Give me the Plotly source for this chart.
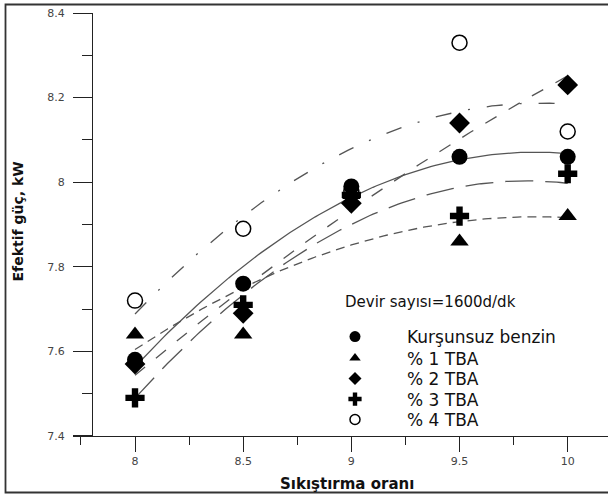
import numpy as np
import plotly.graph_objects as go

# ---- data ----
sikistirma = [8, 8.5, 9, 9.5, 10]
kursunsuz = [7.58, 7.76, 7.99, 8.06, 8.06]
tba1 = [7.64, 7.64, 7.97, 7.86, 7.92]
tba2 = [7.57, 7.69, 7.95, 8.14, 8.23]
tba3 = [7.49, 7.71, 7.97, 7.92, 8.02]
tba4 = [7.72, 7.89, 7.98, 8.33, 8.12]
names = ["Kurşunsuz benzin", "% 1 TBA", "% 2 TBA", "% 3 TBA", "% 4 TBA"]
x_ticks = [8, 8.5, 9, 9.5, 10]
x_tick_labels = ["8", "8.5", "9", "9.5", "10"]
y_ticks = [7.4, 7.6, 7.8, 8.0, 8.2, 8.4]
y_tick_labels = ["7.4", "7.6", "7.8", "8", "8.2", "8.4"]

series = [kursunsuz, tba1, tba2, tba3, tba4]
symbols = ["circle", "triangle-up", "diamond", "cross", "circle-open"]
sizes = [16, 16, 16, 16, 15]
legend_sizes = [11, 10, 10, 11, 10]
dashes = ["solid", "9px,6px", "13px,14px", "28px,12px", "16px,17px,2px,17px"]

FONT = "DejaVu Sans"
LINE = "#555555"

W, H = 608, 497
L, R, T, B = 73, 0, 13, 61
pw, ph = W - L - R, H - T - B
def px(xp):
    return (xp - L) / pw
def py(yp):
    return (H - B - yp) / ph

fig = go.Figure()
xfit = np.linspace(min(sikistirma), max(sikistirma), 121)
for ys, d in zip(series, dashes):
    coef = np.polyfit(sikistirma, ys, 2)
    fig.add_trace(go.Scatter(x=xfit, y=np.polyval(coef, xfit), mode="lines",
                             line=dict(color=LINE, width=1.3, dash=d),
                             showlegend=False, hoverinfo="skip"))
for ys, sym, sz, nm in zip(series, symbols, sizes, names):
    fig.add_trace(go.Scatter(x=sikistirma, y=ys, mode="markers", name=nm,
                             marker=dict(symbol=sym, size=sz, color="black",
                                         line=dict(color="black", width=1.5 if "open" in sym else 0)),
                             showlegend=False))

legend_centers = [337, 358.5, 379, 399.5, 420]
legend_layouts = {}
for i, (sym, sz, nm) in enumerate(zip(symbols, legend_sizes, names)):
    key = "legend" if i == 0 else f"legend{i+1}"
    fig.add_trace(go.Scatter(x=[None], y=[None], mode="markers", name=nm,
                             marker=dict(symbol=sym, size=sz, color="black",
                                         line=dict(color="black", width=1.5 if "open" in sym else 0)),
                             showlegend=True, legend=key))
    legend_layouts[key] = dict(x=px(303), y=py(legend_centers[i]), xanchor="left", yanchor="middle",
                               bgcolor="rgba(0,0,0,0)", itemwidth=94,
                               font=dict(family=FONT, size=17, color="#111"))

xr0 = 8 - (135 - 73) / 216.3
xr1 = 10 + (608 - 567.7) / 216.3

fig.update_layout(
    width=W, height=H,
    margin=dict(l=L, r=R, t=T, b=B),
    paper_bgcolor="white", plot_bgcolor="white",
    font=dict(family=FONT, color="#222"),
    xaxis=dict(range=[xr0, xr1], tickvals=x_ticks, ticktext=x_tick_labels,
               showgrid=False, zeroline=False, showline=True, linecolor="#222", linewidth=1.3,
               ticks="outside", ticklen=15, tickwidth=1.3, tickcolor="#222",
               tickfont=dict(family=FONT, size=11, color="#444"),
               minor=dict(dtick=0.25, tick0=8, ticks="outside", ticklen=8, tickwidth=1.3, tickcolor="#222")),
    yaxis=dict(range=[7.3999, 8.4001], tickvals=y_ticks, ticktext=y_tick_labels,
               anchor="free", position=px(92),
               showgrid=False, zeroline=False, showline=True, linecolor="#222", linewidth=1.3,
               ticks="outside", ticklen=19, tickwidth=1.3, tickcolor="#222",
               tickfont=dict(family=FONT, size=11, color="#444"), ticklabelstandoff=6,
               minor=dict(dtick=0.1, tick0=7.4, ticks="outside", ticklen=10, tickwidth=1.3, tickcolor="#222")),
    showlegend=True,
    **legend_layouts,
)

fig.add_annotation(text="Devir sayısı=1600d/dk", xref="paper", yref="paper",
                   x=px(343), y=py(302), xanchor="left", yanchor="middle", showarrow=False,
                   font=dict(family=FONT, size=15, color="#111"))
fig.add_annotation(text="<b>Sıkıştırma oranı</b>", xref="paper", yref="paper",
                   x=px(347), y=py(484), xanchor="center", yanchor="middle", showarrow=False,
                   font=dict(family=FONT, size=15, color="#111"))
fig.add_annotation(text="<b>Efektif güç, kW</b>", xref="paper", yref="paper",
                   x=px(17.5), y=py(222), xanchor="center", yanchor="middle", showarrow=False,
                   textangle=-90, font=dict(family=FONT, size=14, color="#111"))
fig.add_shape(type="rect", xref="paper", yref="paper",
              x0=px(5.5), x1=px(620), y0=py(492.5), y1=py(4.5),
              line=dict(color="#333", width=1.8), fillcolor="rgba(0,0,0,0)", layer="above")

fig.write_html("out.html",
               config={"displayModeBar": False},
               post_script="document.body.style.margin='0';document.body.style.padding='0';"
                           "document.documentElement.style.overflow='hidden';")
